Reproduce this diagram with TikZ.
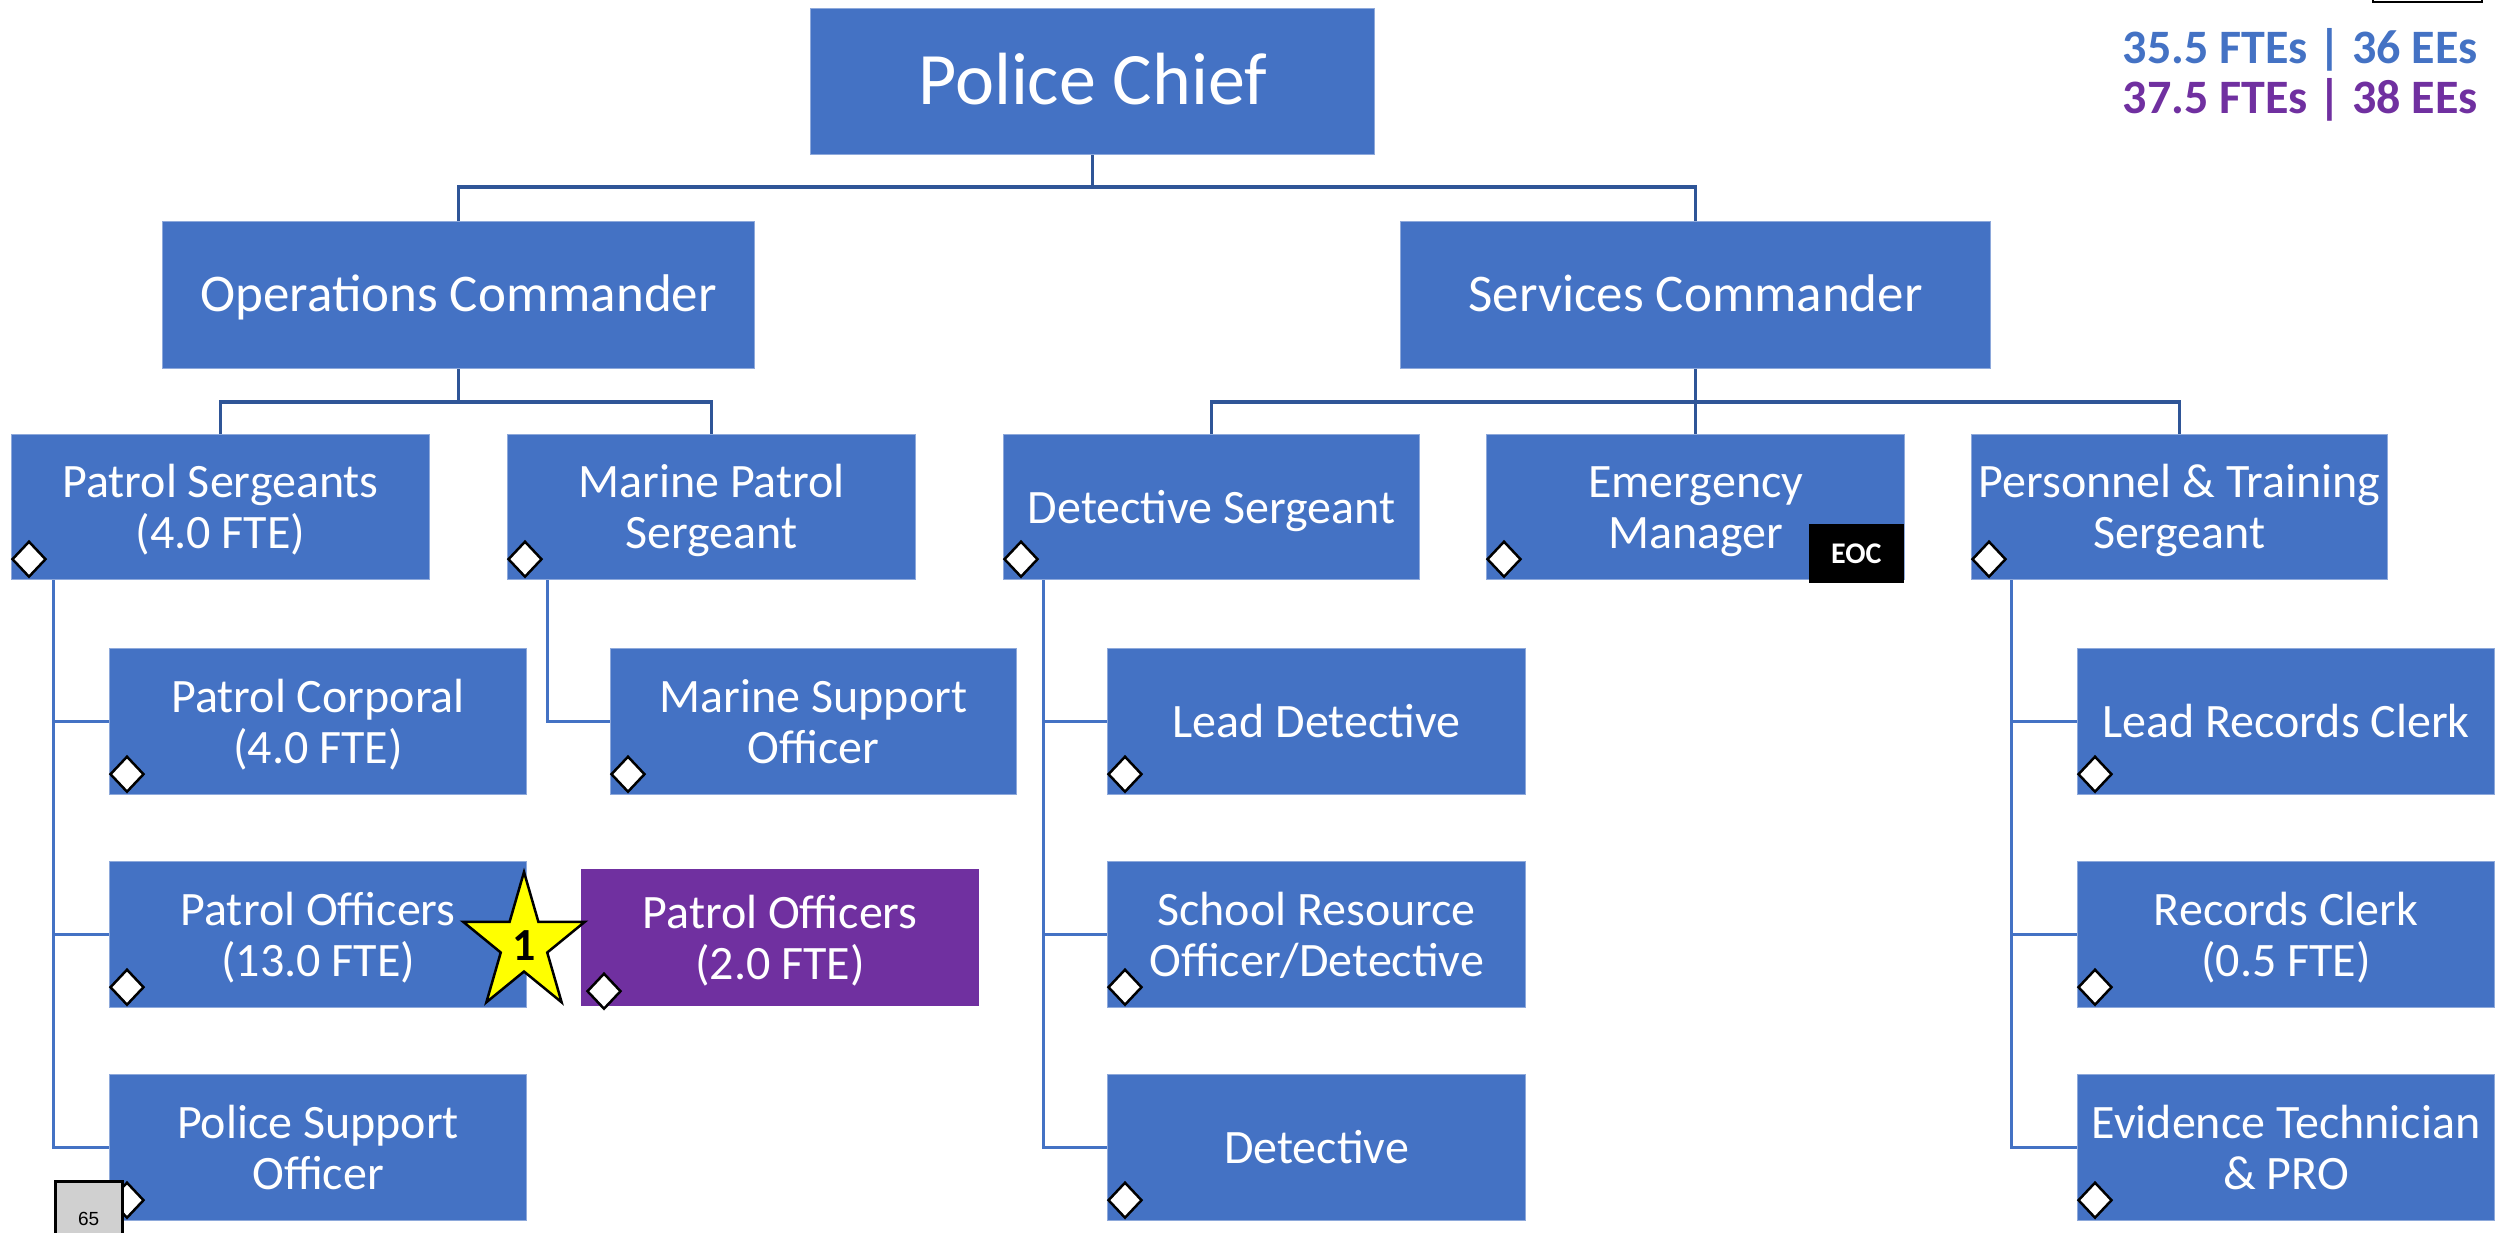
\documentclass[tikz,border=0pt]{standalone}
\usepackage{fontspec}
\setmainfont{Carlito}
\newfontfamily\arialfont{Liberation Sans}
\usetikzlibrary{shapes.geometric,calc}
\definecolor{boxblue}{HTML}{4472C4}
\definecolor{boxpurple}{HTML}{7030A0}
\definecolor{busline}{HTML}{2F5597}
\definecolor{edgeblue}{HTML}{8EA9DB}
\definecolor{tagyellow}{HTML}{FFFF00}
\definecolor{pagegray}{HTML}{D0D0D0}

\begin{document}
\begin{tikzpicture}[x=1pt,y=-1pt,
  % struts beside the label block so that it is centred on its lines, not on its ink
  linebox/.style 2 args={execute at begin node={\rule{0pt}{#1}},
                         execute at end node={\rule[-#2]{0pt}{#2}}},
  orgbox/.style={rectangle, fill=boxblue, draw=edgeblue, line width=1.2pt,
    text=white, inner sep=0pt, anchor=north west, align=center,
    minimum height=146pt, font=\fontsize{48}{51}\selectfont,
    linebox={44pt}{12pt}},
  twoline/.style={linebox={95pt}{12pt}},
  cmdbox/.style={orgbox, minimum height=147pt, font=\fontsize{53}{58}\selectfont,
    linebox={46pt}{13pt}},
  addbox/.style={orgbox, twoline, fill=boxpurple, draw=boxpurple},
  bus/.style={draw=busline, line width=3.5pt},
  sub/.style={draw=boxblue, line width=3pt},
  dia/.style={diamond, draw=black, fill=white, line width=2.5pt,
    minimum width=34pt, minimum height=36pt, inner sep=0pt},
]
\useasboundingbox (0,0) rectangle (2509,1232);

% top level
\node[orgbox, minimum width=564pt, minimum height=146pt,
      font=\fontsize{74}{80}\selectfont, linebox={64pt}{18pt}] (chief) at (810,8) {Police Chief};
\node[cmdbox, minimum width=592pt] (ops) at (162,221) {Operations Commander};
\node[cmdbox, minimum width=590pt] (svc) at (1400,221) {Services Commander};

% sergeant level
\node[orgbox, twoline, minimum width=418pt, minimum height=145pt] (ps)  at (11,434)   {Patrol Sergeants\\(4.0 FTE)};
\node[orgbox, twoline, minimum width=408pt, minimum height=145pt] (mps) at (507,434)  {Marine Patrol\\Sergeant};
\node[orgbox, minimum width=416pt, minimum height=145pt] (ds)  at (1003,434) {Detective Sergeant};
\node[orgbox, twoline, minimum width=418pt, minimum height=145pt] (em)  at (1486,434) {Emergency\\Manager};
\node[orgbox, twoline, minimum width=416pt, minimum height=145pt] (pts) at (1971,434) {Personnel \& Training\\Sergeant};

% staff level
\node[orgbox, twoline, minimum width=417pt] (pc)  at (109,648)  {Patrol Corporal\\(4.0 FTE)};
\node[orgbox, twoline, minimum width=417pt] (po)  at (109,861)  {Patrol Officers\\(13.0 FTE)};
\node[orgbox, twoline, minimum width=417pt] (pso) at (109,1074) {Police Support\\Officer};
\node[orgbox, twoline, minimum width=406pt] (mso) at (610,648)  {Marine Support\\Officer};
\node[addbox, minimum width=397pt, minimum height=136pt] (pp) at (581,869) {Patrol Officers\\(2.0 FTE)};
\node[orgbox, minimum width=418pt] (ld)  at (1107,648)  {Lead Detective};
\node[orgbox, twoline, minimum width=418pt] (sro) at (1107,861)  {School Resource\\Officer/Detective};
\node[orgbox, minimum width=418pt] (det) at (1107,1074) {Detective};
\node[orgbox, minimum width=417pt] (lrc) at (2077,648)  {Lead Records Clerk};
\node[orgbox, twoline, minimum width=417pt] (rc)  at (2077,861)  {Records Clerk\\(0.5 FTE)};
\node[orgbox, twoline, minimum width=417pt] (et)  at (2077,1074) {Evidence Technician\\\& PRO};

% reporting lines
\draw[bus] (chief.south) -- ++(0,33);
\draw[bus] (ops.north) -- ++(0,-34) -| (svc.north);
\draw[bus] (ops.south) -- ++(0,34);
\draw[bus] (ps.north) -- ++(0,-32) -| (mps.north);
\draw[bus] (svc.south) -- (em.north);
\draw[bus] (ds.north) -- ++(0,-32) -| (pts.north);

\draw[sub] ([xshift=42pt]ps.south west) |- (pc.west);
\draw[sub] ([xshift=42pt]ps.south west) |- (po.west);
\draw[sub] ([xshift=42pt]ps.south west) |- (pso.west);
\draw[sub] ([xshift=40pt]mps.south west) |- (mso.west);
\draw[sub] ([xshift=40pt]ds.south west) |- (ld.west);
\draw[sub] ([xshift=40pt]ds.south west) |- (sro.west);
\draw[sub] ([xshift=40pt]ds.south west) |- (det.west);
\draw[sub] ([xshift=40pt]pts.south west) |- (lrc.west);
\draw[sub] ([xshift=40pt]pts.south west) |- (rc.west);
\draw[sub] ([xshift=40pt]pts.south west) |- (et.west);

% position markers
\foreach \b in {ps,mps,ds,em,pts,pc,po,pso,mso,ld,sro,det,lrc,rc,et}
  \node[dia] (dia-\b) at ([shift={(18pt,21pt)}]\b.south west) {};
\node[dia] (dia-pp) at ([shift={(23pt,15pt)}]pp.south west) {};

% EOC tag
\node[fill=black, text=white, inner sep=0pt, anchor=south east,
      minimum width=95pt, minimum height=59pt,
      font=\bfseries\fontsize{30}{30}\selectfont] (eoc) at (1904,583) {EOC};

% new position badge: a slightly tall five-pointed star
\begin{scope}[shift={(524,944)}, xscale=64, yscale=-72]
  \draw[fill=tagyellow, draw=black, line width=2.5pt, line join=miter]
    (90:1) -- (126:0.382) -- (162:1) -- (198:0.382) -- (234:1) --
    (270:0.382) -- (306:1) -- (342:0.382) -- (18:1) -- (54:0.382) -- cycle;
\end{scope}
\node[inner sep=0pt, font=\bfseries\fontsize{46}{46}\selectfont] (badge) at (524,946) {1};

% staffing totals
\node[anchor=base east, inner sep=0pt, text=boxblue,
      font=\bfseries\fontsize{48}{48}\selectfont] (fte1) at (2478,63) {35.5 FTEs | 36 EEs};
\node[anchor=base east, inner sep=0pt, text=boxpurple,
      font=\bfseries\fontsize{48}{48}\selectfont] (fte2) at (2478,113) {37.5 FTEs | 38 EEs};
\draw[black, line width=2pt] (2373,-10) rectangle (2482,2);

% page number
\node[draw=black, line width=2.5pt, fill=pagegray, anchor=north west,
      minimum width=67pt, minimum height=76pt, inner sep=0pt,
      font=\arialfont\fontsize{19}{19}\selectfont] (pg) at (54,1180) {65};
\end{tikzpicture}
\end{document}
